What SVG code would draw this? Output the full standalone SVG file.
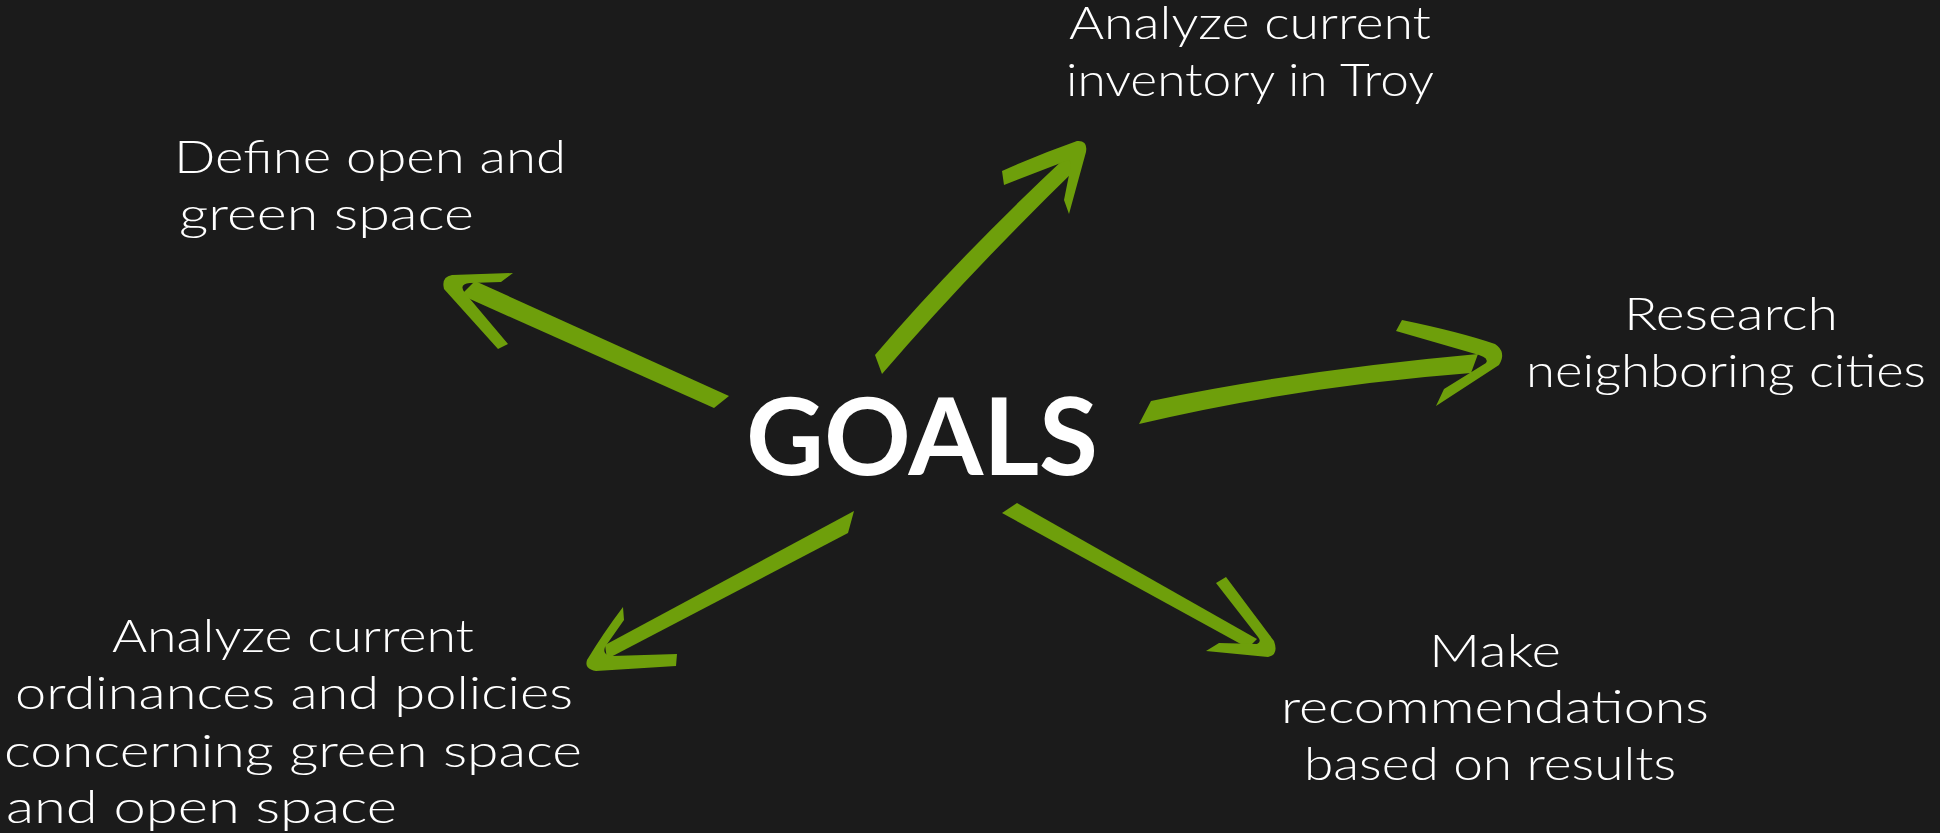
<svg xmlns="http://www.w3.org/2000/svg" width="1940" height="833" viewBox="0 0 1940 833">
<style>
.bg{fill:#1b1b1b}
.arr{fill:#6e9f0b}
.lbl{font-family:"Lato","Liberation Sans",sans-serif;font-weight:300;font-size:46px;fill:#ffffff}
.title{font-family:"Lato","Liberation Sans",sans-serif;font-weight:700;font-size:107px;fill:#ffffff}
</style>
<rect class="bg" x="0" y="0" width="1940" height="833"/>
<g id="connectors">
  <g id="arrow-define">
    <path class="arr" d="M461,295 L475,281 L729,396 L714,408 Z"/>
    <path class="arr" d="M513,273 L452,275 Q441,277 444,289 L498,349 L508,344 L465,293 Q458,284 470,283 L501,282 Z"/>
  </g>
  <g id="arrow-inventory">
    <path class="arr" d="M875,355 Q956,260 1067,156 L1078,167 Q968,274 882,374 Z"/>
    <path class="arr" d="M1002,171 Q1040,154 1077,141 Q1088,140 1086,152 L1069,214 L1064,200 L1071,165 Q1071,159 1066,161 L1004,185 Z"/>
  </g>
  <g id="arrow-research">
    <path class="arr" d="M1139,424 L1151,401 Q1300,370 1478,354 L1471,373 Q1300,386 1139,424 Z"/>
    <path class="arr" d="M1396,331 L1402,320 Q1460,332 1495,344 Q1507,352 1499,365 L1436,406 L1444,389 L1486,363 Q1489,358 1479,355 Z"/>
  </g>
  <g id="arrow-ordinances">
    <path class="arr" d="M854,511 L848,533 L607,659 L605,645 Z"/>
    <path class="arr" d="M623,607 Q604,632 587,660 Q584,669 596,671 L676,666 L677,654 L612,656 Q602,655 605,647 L624,620 Z"/>
  </g>
  <g id="arrow-recommend">
    <path class="arr" d="M1002,513 L1017,503 L1257,639 L1248,648 Z"/>
    <path class="arr" d="M1216,583 L1226,577 Q1256,617 1274,641 Q1279,655 1268,657 L1206,651 L1219,643 L1257,644 Q1262,642 1258,637 Z"/>
  </g>
</g>
<g id="goals">
  <text class="title" x="746" y="475" textLength="352" lengthAdjust="spacingAndGlyphs">GOALS</text>
</g>
<g id="define">
  <text class="lbl" x="174" y="173" textLength="392" lengthAdjust="spacingAndGlyphs">Define open and</text>
  <text class="lbl" x="179" y="230" textLength="295" lengthAdjust="spacingAndGlyphs">green space</text>
</g>
<g id="inventory">
  <text class="lbl" x="1069" y="39" textLength="362" lengthAdjust="spacingAndGlyphs">Analyze current</text>
  <text class="lbl" x="1066" y="96" textLength="368" lengthAdjust="spacingAndGlyphs">inventory in Troy</text>
</g>
<g id="research">
  <text class="lbl" x="1624" y="330" textLength="214" lengthAdjust="spacingAndGlyphs">Research</text>
  <text class="lbl" x="1526" y="387" textLength="400" lengthAdjust="spacingAndGlyphs">neighboring cities</text>
</g>
<g id="ordinances">
  <text class="lbl" x="112" y="652" textLength="362" lengthAdjust="spacingAndGlyphs">Analyze current</text>
  <text class="lbl" x="15" y="709" textLength="558" lengthAdjust="spacingAndGlyphs">ordinances and policies</text>
  <text class="lbl" x="4" y="767" textLength="578" lengthAdjust="spacingAndGlyphs">concerning green space</text>
  <text class="lbl" x="6" y="823" textLength="391" lengthAdjust="spacingAndGlyphs">and open space</text>
</g>
<g id="recommend">
  <text class="lbl" x="1429" y="667" textLength="132" lengthAdjust="spacingAndGlyphs">Make</text>
  <text class="lbl" x="1281" y="723" textLength="428" lengthAdjust="spacingAndGlyphs">recommendations</text>
  <text class="lbl" x="1304" y="780" textLength="372" lengthAdjust="spacingAndGlyphs">based on results</text>
</g>
</svg>
